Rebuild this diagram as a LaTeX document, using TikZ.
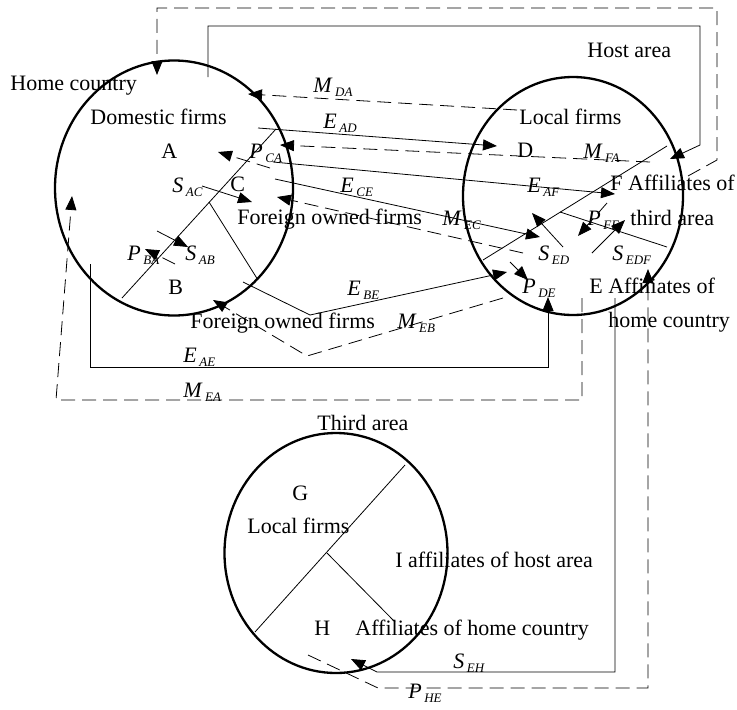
\documentclass[tikz,border=0pt]{standalone}
\usepackage{fontspec}
\setmainfont{Liberation Serif}
\usetikzlibrary{arrows.meta,shapes.geometric}
\newcommand{\fl}[2]{\textit{#1}\hspace{2.5pt}\raisebox{-4.5pt}{\fontsize{13}{13}\selectfont\textit{#2}}}

\begin{document}
\begin{tikzpicture}[x=1pt,y=-1pt,line width=0.8pt,
  every node/.style={font=\fontsize{22}{24}\selectfont,inner sep=0pt,anchor=base west},
  area/.style={draw,ellipse,line width=2.3pt,anchor=center},
  arr/.style={-{Triangle[length=14pt,width=11pt]}},
  dsh/.style={dash pattern=on 14pt off 7pt}]
\useasboundingbox (0,0) rectangle (737,710);
% the three regions
\node[area,minimum width=238pt,minimum height=255pt] (home) at (174,188) {};
\node[area,minimum width=220pt,minimum height=238pt] (host) at (573,196) {};
\node[area,minimum width=223pt,minimum height=240pt] (thr) at (336,553) {};
% end points
\coordinate (hd1) at (122,298); \coordinate (hd2) at (276,129);
\coordinate (hd3) at (209,202); \coordinate (hd4) at (258,280);
\coordinate (sd1) at (483,260); \coordinate (sd2) at (667,146);
\coordinate (sd3) at (560,212); \coordinate (sd4) at (667,247);
\coordinate (td1) at (255,632); \coordinate (td2) at (405,465);
\coordinate (td3) at (327,553); \coordinate (td4) at (395,622);
\coordinate (ead1) at (258,128); \coordinate (ead2) at (497,146);
\coordinate (eaf1) at (273,162); \coordinate (eaf2) at (615,194);
\coordinate (sac1) at (202,186); \coordinate (sac2) at (252,202);
\coordinate (ece1) at (275,179); \coordinate (ece2) at (540,237);
\coordinate (sab1) at (157,231); \coordinate (sab2) at (188,247);
\coordinate (sed1) at (563,247); \coordinate (sed2) at (532,213);
\coordinate (sedf1) at (592,253); \coordinate (sedf2) at (625,220);
\coordinate (mda1) at (517,110); \coordinate (mda2) at (248,94);
\coordinate (mfa1) at (650,162); \coordinate (mfa2) at (280,145);
\coordinate (pca1) at (270,168); \coordinate (pca2) at (218,152);
\coordinate (mec1) at (523,253); \coordinate (mec2) at (277,197);
\coordinate (pba1) at (175,264); \coordinate (pba2) at (145,249);
\coordinate (pfe1) at (607,203); \coordinate (pfe2) at (578,236);
\coordinate (pde1) at (510,262); \coordinate (pde2) at (528,280);
% labels
\node (homec) at (10,90) {Home country};
\node (domf) at (90,124) {Domestic firms};
\node (la) at (161,158) {A};
\node (sac) at (172,192) {\fl{S}{AC}};
\node (lc) at (230,191) {C};
\node (pca) at (249,158) {\fl{P}{CA}};
\node (forc) at (237,224) {Foreign owned firms};
\node (pba) at (127,260) {\fl{P}{BA}};
\node (sab) at (185,260) {\fl{S}{AB}};
\node (lb) at (168,294) {B};
\node (forb) at (190,328) {Foreign owned firms};
\node (eae) at (183,362) {\fl{E}{AE}};
\node (mea) at (183,397) {\fl{M}{EA}};
\node (mda) at (313,92) {\fl{M}{DA}};
\node (ead) at (323,128) {\fl{E}{AD}};
\node (ece) at (340,192) {\fl{E}{CE}};
\node (mec) at (442,225) {\fl{M}{EC}};
\node (ebe) at (347,295) {\fl{E}{BE}};
\node (meb) at (397,328) {\fl{M}{EB}};
\node (hosta) at (587,57) {Host area};
\node (locd) at (519,124) {Local firms};
\node (ld) at (517,157) {D};
\node (mfa) at (583,158) {\fl{M}{FA}};
\node (eaf) at (527,192) {\fl{E}{AF}};
\node (faff) at (610,190) {F Affiliates of};
\node (fthird) at (630,225) {third area};
\node (pfe) at (587,225) {\fl{P}{FE}};
\node (sed) at (538,260) {\fl{S}{ED}};
\node (sedf) at (612,260) {\fl{S}{EDF}};
\node (pde) at (522,293) {\fl{P}{DE}};
\node (eaff) at (589,293) {E Affiliates of};
\node (ehome) at (608,327) {home country};
\node (thirda) at (317,430) {Third area};
\node (lg) at (292,500) {G};
\node (locg) at (247,533) {Local firms};
\node (iaff) at (395,567) {I affiliates of host area};
\node (lh) at (314,635) {H};
\node (haff) at (355,635) {Affiliates of home country};
\node (seh) at (453,668) {\fl{S}{EH}};
\node (phe) at (408,698) {\fl{P}{HE}};
% dividers and flows
\foreach \u/\v in {hd1/hd2,hd3/hd4,sd1/sd2,sd3/sd4,td1/td2,td3/td4}
  \draw (\u)--(\v);
\foreach \u/\v in {ead1/ead2,eaf1/eaf2,sac1/sac2,ece1/ece2,sab1/sab2,sed1/sed2,sedf1/sedf2}
  \draw[arr] (\u)--(\v);
\foreach \u/\v in {mda1/mda2,mfa1/mfa2,pca1/pca2,mec1/mec2,pba1/pba2,pfe1/pfe2,pde1/pde2}
  \draw[arr,dsh] (\u)--(\v);
% bent flows
\coordinate (ebe1) at (243,282); \coordinate (ebe2) at (310,315); \coordinate (ebe3) at (507,272);
\coordinate (meb1) at (503,298); \coordinate (meb2) at (307,356); \coordinate (meb3) at (213,300);
\coordinate (eae1) at (90,264); \coordinate (eae2) at (90,367); \coordinate (eae3) at (548,367); \coordinate (eae4) at (548,297);
\coordinate (mea1) at (582,298); \coordinate (mea2) at (582,400); \coordinate (mea3) at (56,400); \coordinate (mea4) at (72,196);
\coordinate (top1) at (208,77); \coordinate (top2) at (208,26); \coordinate (top3) at (700,26); \coordinate (top4) at (700,145); \coordinate (top5) at (670,159);
\coordinate (dtop1) at (688,176); \coordinate (dtop2) at (717,160); \coordinate (dtop3) at (717,8); \coordinate (dtop4) at (157,8); \coordinate (dtop5) at (157,75);
\coordinate (seh1) at (615,298); \coordinate (seh2) at (615,672); \coordinate (seh3) at (377,672); \coordinate (seh4) at (351,659);
\coordinate (phe1) at (308,655); \coordinate (phe2) at (378,688); \coordinate (phe3) at (648,688); \coordinate (phe4) at (648,269);
\draw[arr] (ebe1)--(ebe2)--(ebe3);
\draw[arr,dsh] (meb1)--(meb2)--(meb3);
\draw[arr] (eae1)--(eae2)--(eae3)--(eae4);
\draw[arr,dsh] (mea1)--(mea2)--(mea3)--(mea4);
\draw[arr] (top1)--(top2)--(top3)--(top4)--(top5);
\draw[arr,dsh] (dtop1)--(dtop2)--(dtop3)--(dtop4)--(dtop5);
\draw[arr] (seh1)--(seh2)--(seh3)--(seh4);
\draw[arr,dsh] (phe1)--(phe2)--(phe3)--(phe4);
\end{tikzpicture}
\end{document}
